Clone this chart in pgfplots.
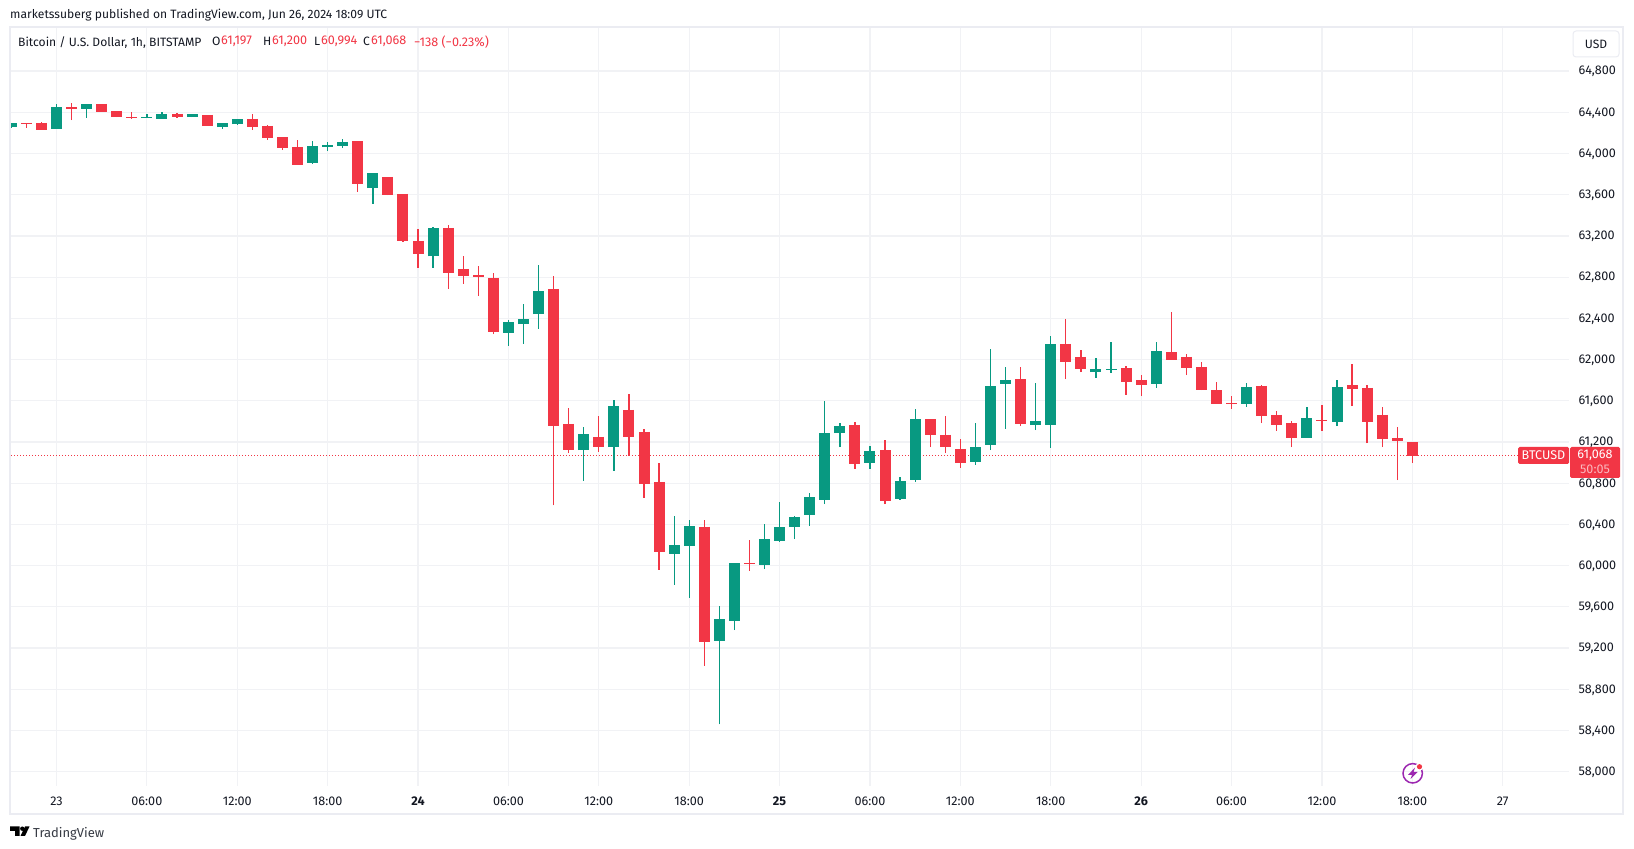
\documentclass[border=0pt]{standalone}
\usepackage{fontspec}
\setmainfont{Fira Sans}
\usepackage{pgfplots}
\usepackage{pgfplotstable}
\pgfplotsset{compat=1.18}
\definecolor{tvgreen}{HTML}{089981}
\definecolor{tvred}{HTML}{F23645}
\definecolor{tvtext}{HTML}{131722}
\definecolor{tvgrid}{HTML}{F1F2F5}
\definecolor{tvframe}{HTML}{EBECF2}
\definecolor{tvpurple}{HTML}{9C27B0}

\pgfplotstableread{
x O H L C
-3 64257 64296 64248 64296
0 64238 64481 64238 64451
2 64432 64481 64345 64481
6 64345 64384 64345 64354
7 64335 64403 64335 64384
9 64354 64384 64354 64384
11 64257 64296 64238 64296
12 64286 64335 64277 64335
17 63908 64121 63898 64073
18 64063 64112 64024 64083
19 64073 64141 64054 64112
21 63665 63811 63510 63811
25 63002 63287 62889 63277
30 62258 62384 62132 62365
31 62345 62539 62151 62394
32 62442 62918 62297 62665
35 61122 61346 60822 61278
37 61151 61608 60919 61549
41 60113 60482 59812 60200
42 60191 60443 59686 60385
44 59269 59608 58460 59482
45 59463 60026 59375 60026
47 60006 60404 59967 60259
48 60239 60618 60229 60375
49 60375 60482 60258 60472
50 60492 60705 60385 60666
51 60637 61598 60598 61287
52 61287 61384 61151 61355
54 60996 61161 60938 61113
56 60647 60860 60637 60822
57 60831 61520 60812 61423
61 61006 61384 60977 61151
62 61171 62103 61122 61744
63 61763 61928 61326 61802
65 61365 61773 61316 61404
66 61365 62229 61142 62151
69 61879 62015 61821 61909
70 61899 62171 61870 61909
73 61763 62171 61724 62083
79 61569 61773 61540 61734
83 61239 61540 61239 61433
85 61394 61802 61355 61734
}\greentable

\pgfplotstableread{
x O H L C
-2 64296 64296 64248 64286
-1 64296 64306 64228 64228
1 64451 64490 64325 64432
3 64481 64481 64403 64403
4 64413 64413 64354 64354
5 64354 64403 64335 64345
8 64384 64393 64345 64354
10 64374 64374 64267 64267
13 64335 64384 64228 64257
14 64267 64277 64131 64151
15 64160 64160 64034 64054
16 64063 64131 63889 63889
20 64121 64121 63627 63704
22 63772 63772 63597 63597
23 63607 63607 63141 63151
24 63151 63267 62889 63025
26 63277 63306 62685 62840
27 62879 63005 62734 62811
28 62821 62908 62617 62801
29 62792 62840 62248 62268
33 62685 62811 60584 61355
34 61375 61530 61093 61122
36 61249 61452 61103 61151
38 61511 61666 61064 61249
39 61297 61326 60657 60792
40 60812 60996 59958 60132
43 60375 60443 59026 59259
46 60026 60249 59948 60016
53 61365 61394 60938 60986
55 61122 61219 60598 60627
58 61423 61423 61151 61268
59 61268 61452 61093 61151
60 61132 61229 60948 60996
64 61811 61928 61355 61375
67 62151 62394 61811 61976
68 62025 62093 61879 61909
71 61918 61938 61656 61782
72 61802 61850 61646 61753
74 62073 62462 61996 61996
75 62025 62054 61850 61918
76 61928 61976 61704 61704
77 61704 61782 61569 61569
78 61578 61646 61520 61569
80 61744 61753 61384 61452
81 61462 61501 61307 61365
82 61384 61404 61151 61239
84 61414 61559 61307 61404
86 61753 61957 61549 61714
87 61724 61753 61190 61394
88 61462 61540 61151 61229
89 61235 61345 60830 61205
90 61197 61200 60994 61068
}\redtable

\newcommand{\candles}[2]{%
  \pgfplotstablegetrowsof{#1}%
  \pgfmathtruncatemacro\nrows{\pgfplotsretval-1}%
  \pgfplotsforeachungrouped \r in {0,...,\nrows}{%
    \pgfplotstablegetelem{\r}{x}\of{#1}\let\cx\pgfplotsretval
    \pgfplotstablegetelem{\r}{O}\of{#1}\let\co\pgfplotsretval
    \pgfplotstablegetelem{\r}{H}\of{#1}\let\ch\pgfplotsretval
    \pgfplotstablegetelem{\r}{L}\of{#1}\let\cl\pgfplotsretval
    \pgfplotstablegetelem{\r}{C}\of{#1}\let\cc\pgfplotsretval
    \edef\tmp{%
      \noexpand\addplot[#2,line width=1.3pt,forget plot] coordinates {(\cx,\cl)(\cx,\ch)};
      \noexpand\addplot[#2,line width=11pt,forget plot] coordinates {(\cx,\co)(\cx,\cc)};
    }\tmp
  }%
}
\newcommand{\lab}{\fontsize{12.6}{15}\selectfont}
\newcommand{\labs}{\fontsize{12.1}{15}\selectfont}

\begin{document}
\begin{tikzpicture}[x=1pt,y=1pt]
\path[use as bounding box,fill=white] (0,0) rectangle (1634,849);
\draw[tvframe,line width=2.2pt] (10,822) rectangle (1623,35);
\begin{axis}[
  at={(11pt,63pt)},anchor=south west,
  scale only axis,width=1558pt,height=758pt,
  xmin=-3.02,xmax=100.4,ymin=57861,ymax=65218,
  axis line style={draw=none},
  major tick length=0pt,
  grid=major,grid style={tvgrid,line width=1.2pt},
  xtick={0,6,...,96},
  xticklabels={23,06:00,12:00,18:00,\textbf{24},06:00,12:00,18:00,\textbf{25},06:00,12:00,18:00,\textbf{26},06:00,12:00,18:00,27},
  ytick={58000,58400,...,64800},
  yticklabel pos=right,
  every tick label/.append style={font=\lab,text=tvtext},
  xticklabel style={yshift=-7pt},
  yticklabel style={xshift=6pt,yshift=-0.6pt},
  /pgf/number format/assume math mode=true,
  /pgf/number format/fixed,
  /pgf/number format/precision=0,
  /pgf/number format/1000 sep={,},
  scaled y ticks=false,
]
\addplot[tvred,line width=1pt,dash pattern=on 1pt off 2pt,forget plot] coordinates {(-3.02,61068)(97,61068)};
\candles{\greentable}{tvgreen}
\candles{\redtable}{tvred}
\end{axis}
\begin{scope}[shift={(0,849)},x=1pt,y=-1pt]
  \node[anchor=west,inner sep=0,text=tvtext,font=\labs] at (10,15) {marketssuberg published on TradingView.com, Jun 26, 2024 18:09 UTC};
  \node[anchor=west,inner sep=0,text=tvtext,font=\labs] at (18,42.5) {Bitcoin / U.S. Dollar, 1h, BITSTAMP};
  \node[anchor=west,inner sep=0,text=tvtext,font=\labs] at (212,41.7) {O};
  \node[anchor=west,inner sep=0,text=tvred,font=\lab] at (221,41.7) {61,197};
  \node[anchor=west,inner sep=0,text=tvtext,font=\labs] at (263,41.7) {H};
  \node[anchor=west,inner sep=0,text=tvred,font=\lab] at (272,41.7) {61,200};
  \node[anchor=west,inner sep=0,text=tvtext,font=\labs] at (314,41.7) {L};
  \node[anchor=west,inner sep=0,text=tvred,font=\lab] at (321,41.7) {60,994};
  \node[anchor=west,inner sep=0,text=tvtext,font=\labs] at (363,41.7) {C};
  \node[anchor=west,inner sep=0,text=tvred,font=\lab] at (371,41.7) {61,068};
  \node[anchor=west,inner sep=0,text=tvred,font=\lab] at (414,42.2) {−138 (−0.23\%)};
  % USD button
  \fill[white] (1573,31) rectangle (1619,57);
  \draw[tvframe,line width=1pt,rounded corners=3pt] (1573,31) rectangle (1619,57);
  \node[text=tvtext,font=\labs,inner sep=0] at (1596,44) {USD};
  % price tags
  \fill[tvred,rounded corners=1.5pt] (1518,447) rectangle (1569,464);
  \node[text=white,font=\lab,inner sep=0] at (1543.5,455.5) {BTCUSD};
  \fill[tvred,rounded corners=1.5pt] (1570,447) rectangle (1620,478);
  \node[text=white,font=\lab,inner sep=0] at (1595,455) {61,068};
  \node[text=white!65!tvred,font=\lab,inner sep=0] at (1595,469) {50:05};
  % bolt icon
  \draw[tvpurple,line width=1.5pt] (1412.7,773.3) circle (9.7);
  \fill[white] (1419.5,766.7) circle (4);
  \fill[tvred] (1419.5,766.7) circle (2.6);
  \fill[tvpurple] (1415,767.5) -- (1408,775) -- (1412,775) -- (1410.5,779) -- (1417.5,772) -- (1413.5,772) -- cycle;
  % logo
  \fill[black] (10,826.5) -- (19.5,826.5) -- (19.5,836) -- (15,836) -- (15,830.8) -- (10,830.8) -- cycle;
  \fill[black] (22.3,828.7) circle (2.2);
  \fill[black] (25,826.5) -- (29.5,826.5) -- (25,836) -- (20.5,836) -- cycle;
  \node[anchor=west,inner sep=0,text=tvtext!85,font=\fontsize{13}{15}\selectfont] at (33,833.5) {TradingView};
\end{scope}
\end{tikzpicture}
\end{document}
